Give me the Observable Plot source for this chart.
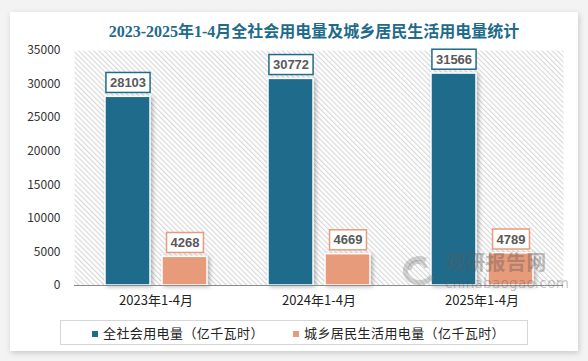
<!DOCTYPE html>
<html>
<head>
<meta charset="utf-8">
<script src="https://cdn.jsdelivr.net/npm/d3@7"></script>
<script src="https://cdn.jsdelivr.net/npm/@observablehq/plot@0.6"></script>
<style>
  html, body { margin: 0; padding: 0; }
  body { width: 588px; height: 361px; background: #f3f3f3; position: relative; overflow: hidden;
         font-family: "Noto Sans CJK SC", "Noto Sans", sans-serif; }
  #card { position: absolute; left: 10px; top: 12px; width: 568px; height: 339px; background: #fff;
          box-shadow: 1px 2px 6px rgba(0,0,0,0.18); }
  #title { position: absolute; left: 10px; top: 20px; width: 608px; text-align: center;
           font-family: "Liberation Serif", "Noto Sans CJK SC", serif; font-weight: bold; font-size: 16px;
           line-height: 24px; color: #1f6b8c; white-space: nowrap; }
  #chart { position: absolute; left: 10px; top: 40px; }
  #legend { position: absolute; left: 60px; top: 320px; width: 466px; height: 23px; border: 1px solid #d6d6d6;
            background: #fff; }
  .item { position: absolute; top: 0; height: 23px; line-height: 23px; font-size: 13px; letter-spacing: 0.4px;
          color: #222; white-space: nowrap; }
  .sw { display: inline-block; width: 6px; height: 6px; margin-right: 5px; vertical-align: 1px; }
  #wm { position: absolute; left: 396px; top: 250px; width: 160px; height: 42px; pointer-events: none; }
  #wm .cn { position: absolute; left: 49px; top: 2px; font-size: 20px; line-height: 20px; font-weight: bold;
            letter-spacing: 0.3px; color: rgba(90,90,90,0.4); }
  #wm .en { position: absolute; left: 49px; top: 27px; font-size: 13.5px; line-height: 13px;
            font-family: "DejaVu Sans", sans-serif; color: rgba(90,90,90,0.36); letter-spacing: 0.3px; }
  #wm svg { position: absolute; left: 0; top: 4px; }
</style>
</head>
<body>
<div id="card"></div>
<div id="title">2023-2025年1-4月全社会用电量及城乡居民生活用电量统计</div>
<div id="chart"></div>
<div id="legend"></div>
<div id="wm">
  <svg width="44" height="32" viewBox="0 0 44 32">
    <path d="M30 6 A14 12 0 1 0 36 22" fill="none" stroke="rgba(120,120,120,0.33)" stroke-width="5"/>
    <path d="M14 16 A8 7 0 0 1 30 14" fill="none" stroke="rgba(120,120,120,0.33)" stroke-width="4"/>
  </svg>
  <div class="cn">观研报告网</div>
  <div class="en">chinabaogao.com</div>
</div>
<script>
const categories = ["2023年1-4月", "2024年1-4月", "2025年1-4月"];
const seriesNames = ["全社会用电量（亿千瓦时）", "城乡居民生活用电量（亿千瓦时）"];
const totalUse = [28103, 30772, 31566];
const residentialUse = [4268, 4669, 4789];
const yTicks = [0, 5000, 10000, 15000, 20000, 25000, 30000, 35000];
const colors = ["#1f6b8c", "#e89b7b"];

const data = [];
categories.forEach((c, i) => {
  data.push({cat: c, series: seriesNames[0], value: totalUse[i]});
  data.push({cat: c, series: seriesNames[1], value: residentialUse[i]});
});

const chart = Plot.plot({
  width: 568,
  height: 275,
  marginLeft: 63,
  marginRight: 15,
  marginTop: 10,
  marginBottom: 30,
  style: {fontFamily: "'Noto Sans CJK SC', 'Noto Sans', sans-serif", fontSize: "12px", color: "#333", background: "transparent", overflow: "visible"},
  fx: {domain: categories, padding: 0, axis: "bottom", tickSize: 0, tickPadding: 10, label: null},
  x: {domain: seriesNames, axis: null, paddingInner: 0.216, paddingOuter: 0.516},
  y: {domain: [0, 35000], ticks: yTicks, tickSize: 0, tickPadding: 14, label: null, tickFormat: d => String(d)},
  color: {domain: seriesNames, range: colors},
  marks: [
    Plot.frame({fill: "url(#hatch)", stroke: "none"}),
    Plot.barY(data, {fx: "cat", x: "series", y: "value", fill: "series", stroke: "#fff", strokeWidth: 1.5}),
    Plot.ruleY([0], {stroke: "#8c8c8c", strokeWidth: 1.2}),
    Plot.text(data, {fx: "cat", x: "series", y: "value", text: d => String(d.value), dy: -14,
                     lineAnchor: "middle", fill: "#595959", fontWeight: "bold", fontSize: 13,
                     fontFamily: "'Liberation Sans', 'DejaVu Sans', sans-serif"})
  ]
});
document.getElementById("chart").appendChild(chart);

// hatch pattern
const svg = d3.select(chart);
const defs = svg.insert("defs", ":first-child");
const pat = defs.append("pattern").attr("id", "hatch").attr("patternUnits", "userSpaceOnUse")
  .attr("width", 3.6).attr("height", 3.6).attr("patternTransform", "rotate(-45)");
pat.append("rect").attr("width", 3.6).attr("height", 3.6).attr("fill", "#fff");
pat.append("line").attr("x1", 0.6).attr("y1", 0).attr("x2", 0.6).attr("y2", 3.6)
  .attr("stroke", "#d4d4d4").attr("stroke-width", 1);

// x (facet) axis labels slightly larger
svg.selectAll("g[aria-label^='fx-axis'] text").style("font-size", "13px").style("fill", "#222");

// bar shadow
svg.selectAll("g[aria-label='bar'] rect").style("filter", "drop-shadow(2px 1px 2px rgba(0,0,0,0.28))");

// label boxes (same local transform as each text)
const seriesByValue = new Map(data.map(d => [String(d.value), d.series]));
svg.selectAll("g[aria-label='text'] text").each(function() {
  const t = this;
  const bb = t.getBBox();
  const s = seriesByValue.get(t.textContent.trim());
  const col = colors[seriesNames.indexOf(s)] || "#999";
  const cy = bb.y + bb.height / 2;
  const r = d3.select(t.parentNode).insert("rect", () => t)
    .attr("x", bb.x - 4).attr("y", cy - 10).attr("width", bb.width + 8).attr("height", 20)
    .attr("fill", "#fff").attr("stroke", col).attr("stroke-width", 1.5);
  const tr = t.getAttribute("transform");
  if (tr) r.attr("transform", tr);
});

// legend
const legend = document.getElementById("legend");
const lefts = [31, 232];
seriesNames.forEach((s, i) => {
  const it = document.createElement("div");
  it.className = "item";
  it.style.left = lefts[i] + "px";
  it.innerHTML = `<span class="sw" style="background:${colors[i]}"></span>${s}`;
  legend.appendChild(it);
});
</script>
</body>
</html>
